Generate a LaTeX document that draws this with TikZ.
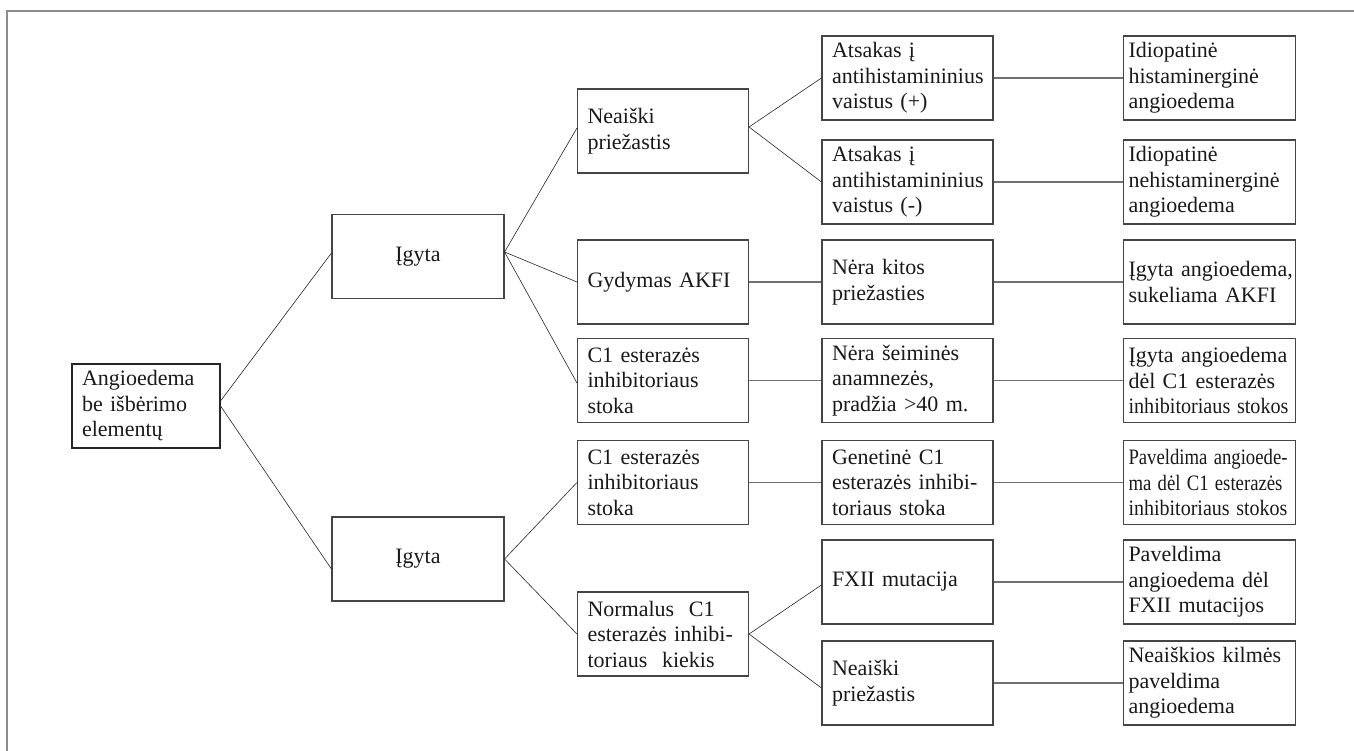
\documentclass[tikz,border=0pt]{standalone}
\usepackage{fontspec}
\setmainfont{Liberation Serif}
\usepackage{graphicx}
\newcommand\fitline[2]{\resizebox{#1}{\height}{#2}}
\definecolor{boxgray}{HTML}{454545}
\definecolor{hgray}{HTML}{707070}
\definecolor{framegray}{HTML}{8C8C8C}
\begin{document}
\begin{tikzpicture}[x=1pt,y=-1pt,
  base/.style={draw=boxgray, line width=1.1pt, rectangle, minimum height=84pt,
    inner xsep=10pt, inner ysep=0pt, font=\fontsize{22}{25.5}\selectfont, text=black!90},
  lbox/.style={base, text width=151pt, align=left},
  rbox/.style={base, inner xsep=5pt, text width=162pt, align=left},
  rootbox/.style={base, text width=128pt, align=left, draw=black!85},
  cbox/.style={base, minimum width=172pt, align=center},
  diag/.style={draw=black!85, line width=0.6pt},
  horiz/.style={draw=hgray, line width=1.2pt},
  frameline/.style={draw=framegray, line width=2pt}]
\useasboundingbox (0,0) rectangle (1354,751);
\draw[frameline] (7,751) -- (7,11) -- (1354,11);

% level 0 and 1
\node[rootbox] (root) at (146,406) {Angioedema\\be išbėrimo\\elementų};
\node[cbox] (ig1) at (418,256.5) {Įgyta};
\node[cbox] (ig2) at (418,559) {Įgyta};

% level 2
\node[lbox] (n1) at (663,131) {Neaiški\\priežastis};
\node[lbox] (g) at (663,282) {Gydymas AKFI};
\node[lbox] (c1a) at (663,380.5) {C1 esterazės\\inhibitoriaus\\stoka};
\node[lbox] (c1b) at (663,482.5) {C1 esterazės\\inhibitoriaus\\stoka};
\node[lbox] (norm) at (663,634) {Normalus\ \ C1\\esterazės inhibi-\\toriaus\ \ kiekis};

% level 3
\node[lbox] (a1) at (907.5,78) {Atsakas į\\antihistamininius\\vaistus (+)};
\node[lbox] (a2) at (907.5,182) {Atsakas į\\antihistamininius\\vaistus (-)};
\node[lbox] (nk) at (907.5,282) {Nėra kitos\\priežasties};
\node[lbox] (ns) at (907.5,380.5) {Nėra šeiminės\\anamnezės,\\pradžia >40 m.};
\node[lbox] (gen) at (907.5,482.5) {Genetinė C1\\esterazės inhibi-\\toriaus stoka};
\node[lbox] (fx) at (907.5,582) {FXII mutacija};
\node[lbox] (nq) at (907.5,683) {Neaiški\\priežastis};

% level 4
\node[rbox] (b1) at (1209.5,78) {Idiopatinė\\histaminerginė\\angioedema};
\node[rbox] (b2) at (1209.5,182) {Idiopatinė\\nehistaminerginė\\angioedema};
\node[rbox] (b3) at (1209.5,282) {\mbox{Įgyta angioedema,}\\sukeliama AKFI};
\node[rbox] (b4) at (1209.5,380.5) {Įgyta angioedema\\dėl C1 esterazės\\\fitline{160pt}{inhibitoriaus stokos}};
\node[rbox] (b5) at (1209.5,482.5) {\fitline{159pt}{Paveldima angioede-}\\\fitline{154pt}{ma dėl C1 esterazės}\\\fitline{159pt}{inhibitoriaus stokos}};
\node[rbox] (b6) at (1209.5,582) {Paveldima\\angioedema dėl\\FXII mutacijos};
\node[rbox] (b7) at (1209.5,683) {Neaiškios kilmės\\paveldima\\angioedema};

% diagonal connectors
\draw[diag] ([yshift=5pt]root.east) -- ([yshift=3.5pt]ig1.west);
\draw[diag] (root.east) -- ([yshift=-10pt]ig2.west);
\draw[diag] ([yshift=4.5pt]ig1.east) -- ([yshift=3pt]n1.west);
\draw[diag] ([yshift=4.5pt]ig1.east) -- (g.west);
\draw[diag] ([yshift=4.5pt]ig1.east) -- ([yshift=-2.5pt]c1a.west);
\draw[diag] (ig2.east) -- (c1b.west);
\draw[diag] (ig2.east) -- (norm.west);
\draw[diag] ([yshift=4pt]n1.east) -- (a1.west);
\draw[diag] ([yshift=4pt]n1.east) -- (a2.west);
\draw[diag] (norm.east) -- ([yshift=-3pt]fx.west);
\draw[diag] (norm.east) -- ([yshift=-5pt]nq.west);

% horizontal connectors
\draw[horiz] (g.east) -- (nk.west);
\draw[horiz] (c1a.east) -- (ns.west);
\draw[horiz] (c1b.east) -- (gen.west);
\draw[horiz] (a1.east) -- (b1.west);
\draw[horiz] (a2.east) -- (b2.west);
\draw[horiz] (nk.east) -- (b3.west);
\draw[horiz] (ns.east) -- (b4.west);
\draw[horiz] (gen.east) -- (b5.west);
\draw[horiz] (fx.east) -- (b6.west);
\draw[horiz] (nq.east) -- (b7.west);
\end{tikzpicture}
\end{document}
